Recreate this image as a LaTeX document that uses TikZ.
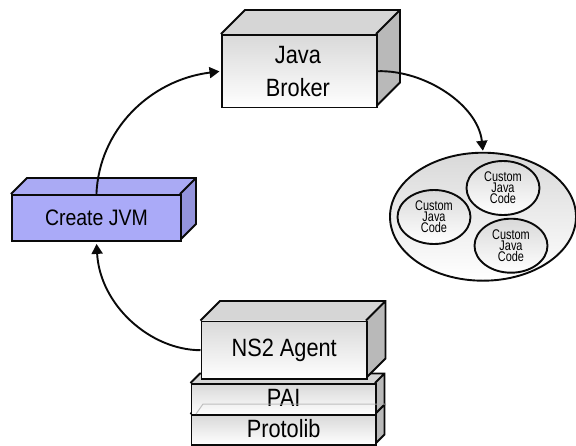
\documentclass[tikz,border=0pt]{standalone}
\usepackage{fontspec}
\setmainfont[FakeStretch=0.87]{Liberation Sans}
\newfontfamily\narrowfont[FakeStretch=0.78]{Liberation Sans}
\usetikzlibrary{arrows.meta,shapes.geometric}
\definecolor{topgrey}{HTML}{D6D6D6}
\definecolor{sidegrey}{HTML}{B9B9B9}
\definecolor{frontgrey}{HTML}{D9D9D9}
\definecolor{bluefront}{HTML}{AAAAF8}
\definecolor{bluetop}{HTML}{AAAAF4}
\definecolor{blueside}{HTML}{9494DC}
\definecolor{ink}{HTML}{0A0A0A}
\tikzset{
  x=1pt,y=-1pt,
  edge/.style={draw=ink,line width=1.9pt,line join=miter},
  greyfront/.style={edge,top color=frontgrey,bottom color=white,rectangle,inner sep=0pt,align=center},
  bluefill/.style={edge,fill=bluefront,rectangle,inner sep=0pt,align=center},
  flow/.style={draw=ink,line width=1.9pt,-{Triangle[length=10pt,width=11pt]}},
  oval/.style={edge,ellipse,inner sep=0pt,top color=frontgrey,bottom color=white,align=center},
  smalltext/.style={font=\narrowfont\fontsize{14}{11}\selectfont},
  bigtext/.style={font=\fontsize{25}{33}\selectfont}
}
% name, x1, y1, x2, y2, depth, top colour, side colour, front style, text
\newcommand{\solidbox}[9]{%
  \fill[#7] (#2,#3) -- ++(#6,-#6) -- (#4+#6,#3-#6) -- (#4,#3) -- cycle;
  \fill[#8] (#4,#3) -- (#4+#6,#3-#6) -- (#4+#6,#5-#6) -- (#4,#5) -- cycle;
  \draw[edge] (#2,#3) -- ++(#6,-#6) -- (#4+#6,#3-#6) -- (#4+#6,#5-#6) -- (#4,#5) (#4,#3) -- (#4+#6,#3-#6);
  \node[#9,minimum width=#4-#2,minimum height=#5-#3,anchor=north west] (#1) at (#2,#3)
}
\begin{document}
\begin{tikzpicture}
\useasboundingbox (0,0) rectangle (576,445);
\fill[white] (0,0) rectangle (576,445);

\solidbox{protolib}{190.5}{414}{375}{444}{9.5}{topgrey}{sidegrey}{greyfront,bigtext} {\raisebox{-7.5pt}[0pt][0pt]{Protolib}};
\solidbox{pai}{190.5}{383}{375}{414}{9.5}{topgrey}{sidegrey}{greyfront,bigtext} {\raisebox{-7.5pt}[0pt][0pt]{PAI}};
\coordinate (shA) at (196,414);
\coordinate (shB) at (203,404);
\coordinate (shC) at (386,404);
\draw[black!30,opacity=.8,line width=1pt] (shA) -- (shB) -- (shC);

\solidbox{ns2}{200.5}{320.5}{366}{378}{19.5}{topgrey}{sidegrey}{greyfront,bigtext} {NS2 Agent};
\solidbox{broker}{221}{34}{376}{106.5}{24}{topgrey}{sidegrey}{greyfront,bigtext} {\hspace*{-3pt}Java\\\hspace*{-3pt}Broker};
\solidbox{jvm}{11}{194}{180}{240}{16}{bluetop}{blueside}{bluefill,font=\fontsize{22.4}{24}\selectfont} {Create JVM};

\node[oval,minimum width=186pt,minimum height=128pt] (pool) at (483,216.7) {};
\node[oval,smalltext,minimum width=73pt,minimum height=54pt] (codeA) at (503,188) {Custom\\Java\\Code};
\node[oval,smalltext,minimum width=73pt,minimum height=54pt] (codeB) at (434,217) {Custom\\Java\\Code};
\node[oval,smalltext,minimum width=73pt,minimum height=54pt] (codeC) at (511,245.7) {Custom\\Java\\Code};

\draw[flow,shorten >=1.5pt] (jvm.north) .. controls (99,130) and (150,80) .. (broker.west);
\draw[flow,shorten >=1pt] (broker.east) .. controls (425,70) and (478,105) .. (pool.north);
\draw[flow,shorten >=2pt] (ns2.west) .. controls (150,350) and (100,305) .. (jvm.south);
\end{tikzpicture}
\end{document}
